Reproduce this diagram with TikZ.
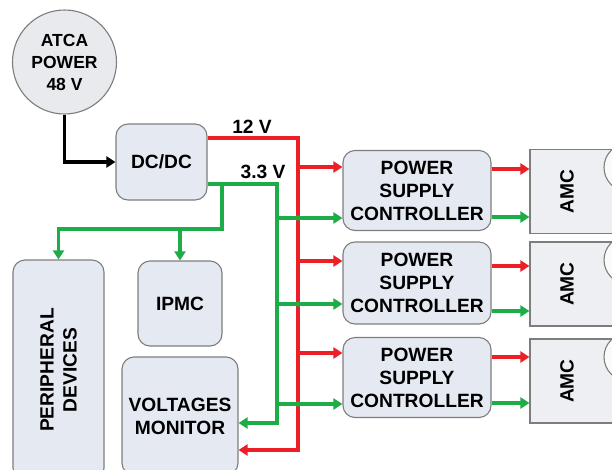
\documentclass[tikz,border=0pt]{standalone}
\usepackage{fontspec}
\setmainfont{Liberation Sans}
\usetikzlibrary{arrows.meta}

\definecolor{pwrred}{RGB}{236,30,38}
\definecolor{pwrgreen}{RGB}{30,172,72}
\definecolor{boxfill}{RGB}{229,234,242}
\definecolor{amcfill}{RGB}{237,239,242}
\definecolor{discfill}{RGB}{232,234,238}
\definecolor{edgegray}{RGB}{125,125,125}

\begin{document}
\begin{tikzpicture}[
  x=1pt, y=-1pt,
  every node/.style={font=\fontsize{19.2}{23}\selectfont\bfseries, align=center},
  blk/.style={draw=edgegray, fill=boxfill, rounded corners=12pt,
              line width=1.1pt, inner sep=0pt},
  disc/.style={circle, draw=edgegray, fill=discfill, line width=1.1pt,
               minimum size=104pt, inner sep=0pt,
               font=\fontsize{17.5}{22}\selectfont\bfseries},
  amcbox/.style={draw=edgegray, fill=amcfill, line width=1.1pt,
                 minimum width=110pt, minimum height=84pt},
  wire/.style={line width=3.5pt},
  tip/.style={-{Triangle[length=9pt,width=11pt]}},
  feed/.style={wire, draw=black},
  r12/.style={wire, draw=pwrred},
  g33/.style={wire, draw=pwrgreen}
]
  \path[use as bounding box, clip] (0,0) rectangle (612,469);

  \node[disc] (atca) at (64.5,62) {ATCA\\POWER\\48 V};
  \node[blk, minimum width=91pt, minimum height=76pt] (dcdc) at (161.5,162) {DC/DC};
  \node[blk, minimum width=148pt, minimum height=80pt] (psc1) at (417,190.5) {POWER\\SUPPLY\\CONTROLLER};
  \node[blk, minimum width=148pt, minimum height=82pt] (psc2) at (417,283) {POWER\\SUPPLY\\CONTROLLER};
  \node[blk, minimum width=148pt, minimum height=80pt] (psc3) at (417,377.5) {POWER\\SUPPLY\\CONTROLLER};
  \node[blk, minimum width=84pt, minimum height=85pt] (ipmc) at (180,303.5) {IPMC};
  % rotated box: its east anchor is the top side
  \node[blk, rotate=90, minimum width=220pt, minimum height=91pt] (periph) at (58.5,370) {PERIPHERAL\\DEVICES};
  \node[blk, minimum width=116pt, minimum height=118pt] (vm) at (180,416) {VOLTAGES\\MONITOR};

  \foreach \i/\y in {1/191.5, 2/284, 3/381} {
    \node[amcbox] (amc\i) at (585,\y) {};
    \begin{scope}
      \clip (amc\i.north west) rectangle (amc\i.south east);
      \draw[edgegray, fill=white!70!amcfill, line width=1.1pt] (628,\y-24) circle (24pt);
    \end{scope}
    \node[rotate=90] (amct\i) at (567,\y) {AMC};
  }

  \node (v12) at (252,127) {12 V};
  \node (v33) at (263,172) {3.3 V};

  \coordinate (rtop) at (298,138);
  \coordinate (rbot) at (298,450);
  \coordinate (gtop) at (277,184);
  \coordinate (gbot) at (277,423);
  \coordinate (gsplit) at (222,229);

  \draw[feed, tip] (atca.south) |- (dcdc.west);

  % 12 V rail
  \draw[r12, tip] (dcdc.east |- rtop) -- (rtop) -- (rbot) -- (vm.east |- rbot);
  % 3.3 V rail
  \draw[g33, tip] (dcdc.east |- gtop) -- (gtop) -- (gbot) -- (vm.east |- gbot);
  \draw[g33, tip] (gsplit |- gtop) -- (gsplit) -| (periph.east);
  \draw[g33, tip] (ipmc.north |- gsplit) -- (ipmc.north);

  \foreach \i/\ri/\gi/\ro/\go in {1/167/218/169/217, 2/261/304/266/311, 3/353/404/357/403} {
    \draw[r12, tip] (rtop |- 0,\ri) -- (psc\i.west |- 0,\ri);
    \draw[g33, tip] (gtop |- 0,\gi) -- (psc\i.west |- 0,\gi);
    \fill[pwrgreen] (rtop |- 0,\gi) circle (2.8pt);
    \draw[r12, tip] (psc\i.east |- 0,\ro) -- (amc\i.west |- 0,\ro);
    \draw[g33, tip] (psc\i.east |- 0,\go) -- (amc\i.west |- 0,\go);
  }
\end{tikzpicture}
\end{document}
